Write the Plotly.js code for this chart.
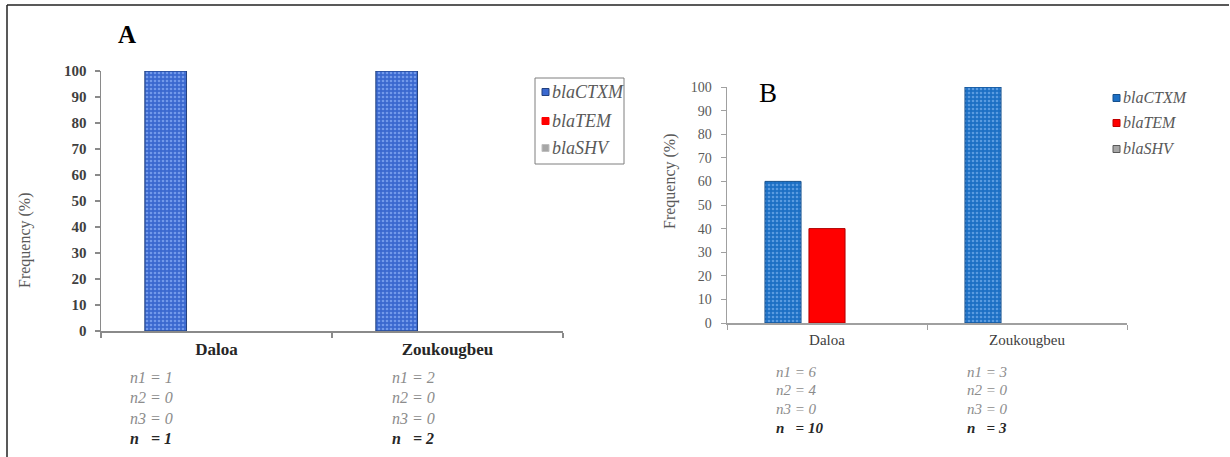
<!DOCTYPE html>
<html>
<head>
<meta charset="utf-8">
<script src="https://cdn.plot.ly/plotly-3.0.1.min.js"></script>
<style>
html,body{margin:0;padding:0;background:#fff;}
#chart{width:1230px;height:457px;}
</style>
</head>
<body>
<div id="chart"></div>
<script>
// ---------- data ----------
const regions = ['Daloa', 'Zoukougbeu'];
const seriesNames = ['blaCTXM', 'blaTEM', 'blaSHV'];

// Panel A (frequency %)
const A_ctxm = [100, 100];
const A_tem = [0, 0];
const A_shv = [0, 0];
const A_n1 = [1, 2];
const A_n2 = [0, 0];
const A_n3 = [0, 0];
const A_n = [1, 2];

// Panel B (frequency %)
const B_ctxm = [60, 100];
const B_tem = [40, 0];
const B_shv = [0, 0];
const B_n1 = [6, 3];
const B_n2 = [4, 0];
const B_n3 = [0, 0];
const B_n = [10, 3];

const yTicks = [0, 10, 20, 30, 40, 50, 60, 70, 80, 90, 100];

// ---------- helpers ----------
const W = 1230, H = 457;
const px = v => v / W;
const py = v => 1 - v / H;
const SERIF = '"Liberation Serif", "Times New Roman", Times, serif';

const colA = ['#3a68cf', '#ff0000', '#a6a6a6'];
const colB = ['#1c6fc4', '#ff0000', '#a6a6a6'];

function barTrace(y, i, panel) {
  const isA = panel === 'A';
  const c = isA ? colA[i] : colB[i];
  const lineCol = i === 0 ? (isA ? '#22407e' : '#16508c') : (i === 1 ? '#b00000' : '#7f7f7f');
  const marker = {color: c, line: {color: lineCol, width: y.map(v => v > 0 ? 1 : 0)}};
  if (i === 0) {
    marker.pattern = {shape: '.', bgcolor: c, fgcolor: isA ? '#7299ea' : '#5a9be0', size: 4, solidity: 0.35};
  }
  return {
    type: 'bar', x: regions, y: y, name: seriesNames[i],
    xaxis: isA ? 'x' : 'x2', yaxis: isA ? 'y' : 'y2',
    marker: marker, showlegend: false, hoverinfo: 'x+y+name'
  };
}

const data = [
  barTrace(A_ctxm, 0, 'A'), barTrace(A_tem, 1, 'A'), barTrace(A_shv, 2, 'A'),
  barTrace(B_ctxm, 0, 'B'), barTrace(B_tem, 1, 'B'), barTrace(B_shv, 2, 'B')
];

const annotations = [];
const shapes = [];

// Frame (top + left lines)
shapes.push({type: 'line', xref: 'paper', yref: 'paper', x0: px(7), x1: px(1229), y0: py(5), y1: py(5), line: {color: '#222', width: 1.5}});
shapes.push({type: 'line', xref: 'paper', yref: 'paper', x0: px(7), x1: px(7), y0: py(5), y1: py(457), line: {color: '#222', width: 1.5}});

// Panel letters
annotations.push({xref: 'paper', yref: 'paper', x: px(127), y: py(35), text: 'A', showarrow: false, xanchor: 'center', yanchor: 'middle', font: {family: SERIF, size: 25, color: '#000', weight: 'bold'}});
annotations.push({xref: 'paper', yref: 'paper', x: px(768), y: py(93), text: 'B', showarrow: false, xanchor: 'center', yanchor: 'middle', font: {family: SERIF, size: 27, color: '#000'}});

// Y titles
annotations.push({xref: 'paper', yref: 'paper', x: px(25), y: py(240), text: 'Frequency (%)', textangle: -90, showarrow: false, xanchor: 'center', yanchor: 'middle', font: {family: SERIF, size: 16, color: '#595959'}});
annotations.push({xref: 'paper', yref: 'paper', x: px(670), y: py(181), text: 'Frequency (%)', textangle: -90, showarrow: false, xanchor: 'center', yanchor: 'middle', font: {family: SERIF, size: 16, color: '#595959'}});

// n lines
function nLines(n1, n2, n3, n, xs, ys, size) {
  for (let k = 0; k < regions.length; k++) {
    const rows = [
      {t: 'n1 = ' + n1[k], bold: false},
      {t: 'n2 = ' + n2[k], bold: false},
      {t: 'n3 = ' + n3[k], bold: false},
      {t: 'n\u00a0\u00a0 = ' + n[k], bold: true}
    ];
    rows.forEach((r, j) => {
      annotations.push({
        xref: 'paper', yref: 'paper', x: px(xs[k]), y: py(ys[j]), text: r.t, showarrow: false,
        xanchor: 'left', yanchor: 'middle', borderpad: 0,
        font: {family: SERIF, size: size, style: 'italic', color: r.bold ? '#262626' : '#8c8c8c', weight: r.bold ? 'bold' : 'normal'}
      });
    });
  }
}
nLines(A_n1, A_n2, A_n3, A_n, [129, 391], [377, 397, 418, 438], 16);
nLines(B_n1, B_n2, B_n3, B_n, [775, 966], [372, 390, 409, 428], 15);

// Custom legends
function legend(cols, borders, x0, ys, size, box) {
  if (box) shapes.push({type: 'rect', xref: 'paper', yref: 'paper', x0: px(box[0]), x1: px(box[1]), y0: py(box[2]), y1: py(box[3]), line: {color: '#7f7f7f', width: 1}, fillcolor: 'rgba(0,0,0,0)'});
  seriesNames.forEach((nm, i) => {
    shapes.push({type: 'rect', xref: 'paper', yref: 'paper', x0: px(x0), x1: px(x0 + 7), y0: py(ys[i] - 3.5), y1: py(ys[i] + 3.5), line: {color: borders[i], width: 1}, fillcolor: cols[i]});
    annotations.push({xref: 'paper', yref: 'paper', x: px(x0 + 9), y: py(ys[i]), text: nm, showarrow: false, xanchor: 'left', yanchor: 'middle', borderpad: 0, font: {family: SERIF, size: size, style: 'italic', color: '#595959'}});
  });
}
legend(colA, ['#22407e', '#ff0000', '#bfbfbf'], 542, [92, 121, 148], 18, [535, 624, 78, 164]);
legend(colB, ['#16508c', '#c00000', '#595959'], 1113, [98, 123, 149], 16, null);

const axisCommonX = {
  type: 'category', tickson: 'boundaries', ticks: 'outside', ticklen: 5,
  showline: true, showgrid: false, zeroline: false, fixedrange: true
};
const axisCommonY = {
  range: [0, 100], tickvals: yTicks, ticks: 'outside', ticklen: 5,
  showline: true, showgrid: false, zeroline: false, fixedrange: true
};

const layout = {
  width: W, height: H,
  margin: {l: 0, r: 0, t: 0, b: 0},
  paper_bgcolor: '#fff', plot_bgcolor: '#fff',
  barmode: 'group', bargap: 0.34, bargroupgap: 0.18,
  showlegend: false,
  font: {family: SERIF},
  xaxis: Object.assign({}, axisCommonX, {
    domain: [px(101), px(563)], anchor: 'y',
    linecolor: '#8a8a8a', linewidth: 1.5, tickcolor: '#8a8a8a', tickwidth: 1.5,
    ticklabelstandoff: 2,
    tickfont: {family: SERIF, size: 17, color: '#262626', weight: 'bold'}
  }),
  yaxis: Object.assign({}, axisCommonY, {
    domain: [py(331), py(71)], anchor: 'x',
    linecolor: '#8a8a8a', linewidth: 1.5, tickcolor: '#8a8a8a', tickwidth: 1.5,
    ticklabelstandoff: 5,
    tickfont: {family: SERIF, size: 15, color: '#404040', weight: 'bold'}
  }),
  xaxis2: Object.assign({}, axisCommonX, {
    domain: [px(727), px(1127)], anchor: 'y2',
    linecolor: '#a0a0a0', linewidth: 1.5, tickcolor: '#a0a0a0', tickwidth: 1,
    ticklabelstandoff: 2,
    tickfont: {family: SERIF, size: 15, color: '#404040'}
  }),
  yaxis2: Object.assign({}, axisCommonY, {
    domain: [py(323), py(87)], anchor: 'x2',
    linecolor: '#a0a0a0', linewidth: 1.5, tickcolor: '#a0a0a0', tickwidth: 1,
    ticklabelstandoff: 6,
    tickfont: {family: SERIF, size: 14, color: '#595959'}
  }),
  shapes: shapes,
  annotations: annotations
};

Plotly.newPlot('chart', data, layout, {displayModeBar: false, staticPlot: true});
</script>
</body>
</html>
